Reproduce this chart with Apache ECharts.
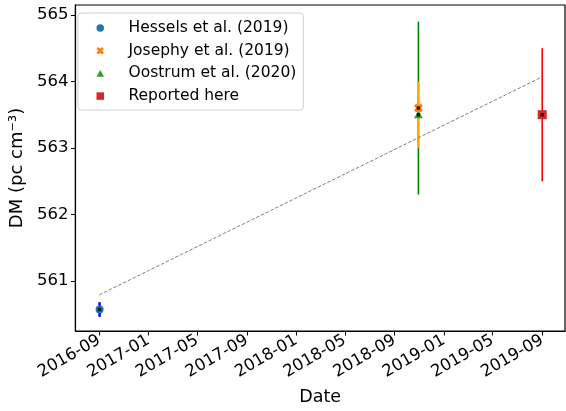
<!DOCTYPE html>
<html>
<head>
<meta charset="utf-8">
<script src="https://cdn.jsdelivr.net/npm/echarts@6/dist/echarts.min.js"></script>
<style>html,body{margin:0;padding:0;background:#fff}#c{width:566px;height:411px}</style>
</head>
<body>
<div id="c"></div>
<script>
// ---- data ----
const seriesNames = ['Hessels et al. (2019)', 'Josephy et al. (2019)', 'Oostrum et al. (2020)', 'Reported here'];
const obsDates = ['2016-09-02', '2018-10-30', '2018-10-30', '2019-09-01'];
const dmValues = [560.57, 563.6, 563.5, 563.5];
const dmLow = [560.46, 563.0, 562.3, 562.5];
const dmHigh = [560.68, 564.0, 564.9, 564.5];
const fitDates = ['2016-09-01', '2019-09-01'];
const fitValues = [560.79, 564.07];
const xTickLabels = ['2016-09', '2017-01', '2017-05', '2017-09', '2018-01', '2018-05', '2018-09', '2019-01', '2019-05', '2019-09'];
const yTickValues = [561, 562, 563, 564, 565];

// ---- helpers ----
function dayNum(s) {
  const p = s.split('-').map(Number);
  return (Date.UTC(p[0], p[1] - 1, p[2] || 1) - Date.UTC(2016, 0, 1)) / 86400000;
}
const xTickValues = xTickLabels.map(l => dayNum(l + '-01'));
const FONT = 'DejaVu Sans';

const markerColors = ['#1f77b4', '#ff7f0e', '#2ca02c', '#d62728'];
const barColors = ['#0000ff', '#ffa500', '#008000', '#ff0000'];
const barWidths = [2.5, 2, 1.6, 1.6];
const barZ = [3, 3, 2, 3];
const xPath = 'path://M-5,-2.4L-2.4,-5L0,-2.6L2.4,-5L5,-2.4L2.6,0L5,2.4L2.4,5L0,2.6L-2.4,5L-5,2.4L-2.6,0Z';
const triPath = 'path://M0,0L1,1.8L-1,1.8Z';
const sqPath = 'path://M0,0L1,0L1,1L0,1Z';
const symbols = ['circle', xPath, triPath, sqPath];
const symbolSizes = [8, 9, [9, 8], 9];

const series = [];
seriesNames.forEach((name, i) => {
  series.push({
    type: 'custom',
    name: name + ' err',
    z: barZ[i],
    silent: true,
    data: [[dayNum(obsDates[i]), dmLow[i], dmHigh[i]]],
    renderItem: function (params, api) {
      const p1 = api.coord([api.value(0), api.value(1)]);
      const p2 = api.coord([api.value(0), api.value(2)]);
      return {
        type: 'line',
        shape: { x1: p1[0], y1: p1[1], x2: p2[0], y2: p2[1] },
        style: { stroke: barColors[i], lineWidth: barWidths[i] }
      };
    }
  });
});
seriesNames.forEach((name, i) => {
  series.push({
    type: 'scatter',
    name: name,
    z: 5,
    symbol: symbols[i],
    symbolSize: symbolSizes[i],
    symbolKeepAspect: true,
    itemStyle: { color: markerColors[i], opacity: 1 },
    data: [[dayNum(obsDates[i]), dmValues[i]]]
  });
});
// small black centre markers
series.push({
  type: 'scatter',
  name: 'centres',
  z: 6,
  symbol: 'rect',
  symbolSize: 3.5,
  itemStyle: { color: '#000' },
  data: obsDates.map((d, i) => [dayNum(d), dmValues[i]])
});
// dashed fit line
series.push({
  type: 'line',
  name: 'fit',
  z: 4,
  symbol: 'none',
  lineStyle: { color: '#808080', width: 1, type: [3.5, 1.8] },
  data: fitDates.map((d, i) => [dayNum(d), fitValues[i]])
});

const chart = echarts.init(document.getElementById('c'), null, { renderer: 'canvas' });
chart.setOption({
  animation: false,
  backgroundColor: '#fff',
  textStyle: { fontFamily: FONT },
  grid: { left: 71, right: 1, top: 5, bottom: 79, show: true, borderColor: '#000', borderWidth: 1.2, containLabel: false },
  legend: {
    orient: 'vertical',
    left: 78,
    top: 13,
    padding: [7, 7, 6, 18.5],
    itemWidth: 7.5,
    itemHeight: 7.5,
    itemGap: 6.7,
    borderColor: '#d0d0d0',
    borderWidth: 1,
    borderRadius: 3,
    backgroundColor: '#fff',
    formatter: name => '{g| }' + name,
    textStyle: {
      fontFamily: FONT, fontSize: 15.5, color: '#000', lineHeight: 16,
      rich: { g: { width: 19.5, fontSize: 15.5, lineHeight: 16 } }
    },
    data: seriesNames.map((n, i) => ({ name: n, icon: symbols[i] }))
  },
  xAxis: {
    type: 'value',
    min: 185.2,
    max: 1395.3,
    name: 'Date',
    nameLocation: 'middle',
    nameGap: 57,
    nameTextStyle: { fontFamily: FONT, fontSize: 17.5, color: '#000' },
    axisLine: { show: true, onZero: false, lineStyle: { color: '#000', width: 1.2 } },
    axisTick: { show: true, length: 4.5, lineStyle: { color: '#000', width: 1 }, customValues: xTickValues },
    axisLabel: {
      show: true,
      rotate: 30,
      margin: 8,
      fontFamily: FONT,
      fontSize: 16.5,
      color: '#000',
      customValues: xTickValues,
      formatter: function (v) {
        const idx = xTickValues.findIndex(t => Math.abs(t - v) < 0.01);
        return idx >= 0 ? xTickLabels[idx] : '';
      }
    },
    splitLine: { show: false }
  },
  yAxis: {
    type: 'value',
    min: 560.247,
    max: 565.15,
    name: 'DM (pc cm⁻³)',
    nameLocation: 'middle',
    nameGap: 45,
    nameTextStyle: { fontFamily: FONT, fontSize: 18, color: '#000' },
    axisLine: { show: true, onZero: false, lineStyle: { color: '#000', width: 1.2 } },
    axisTick: { show: true, length: 4.5, lineStyle: { color: '#000', width: 1 }, customValues: yTickValues },
    axisLabel: {
      show: true,
      margin: 7,
      fontFamily: FONT,
      fontSize: 16.5,
      color: '#000',
      customValues: yTickValues,
      formatter: v => String(Math.round(v))
    },
    splitLine: { show: false }
  },
  series: series
});
</script>
</body>
</html>
